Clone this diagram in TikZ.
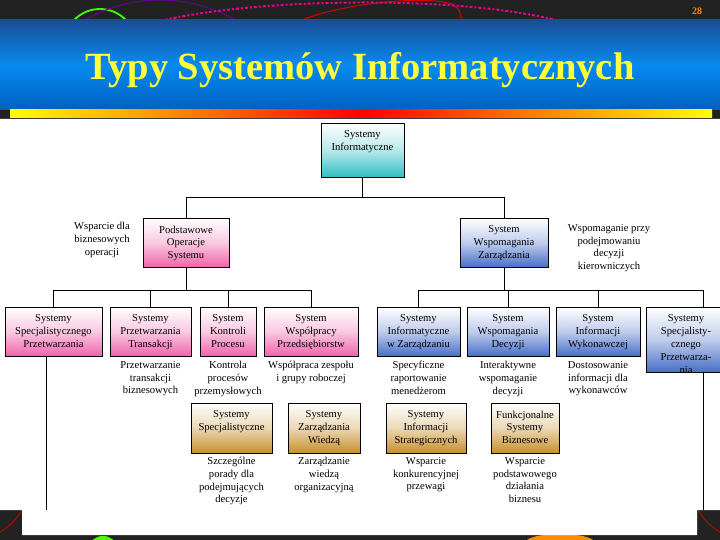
\documentclass[tikz,border=0pt]{standalone}
\usepackage{fontspec}
\setmainfont{Liberation Serif}
\definecolor{bgdark}{RGB}{34,34,34}
\definecolor{bannertop}{RGB}{25,78,150}
\definecolor{bannermid}{RGB}{8,138,240}
\definecolor{bannerbot}{RGB}{0,96,192}
\definecolor{titleyellow}{RGB}{255,255,60}
\definecolor{tealc}{RGB}{50,190,196}
\definecolor{pinkc}{RGB}{240,100,170}
\definecolor{bluec}{RGB}{72,112,200}
\definecolor{goldc}{RGB}{198,144,44}
\definecolor{pagenum}{RGB}{255,130,20}
\newcommand{\chartfont}{\fontsize{10.6}{12.8}\selectfont}
\tikzset{
  chartbox/.style={draw=black, line width=0.8pt, inner sep=0pt},
  tealbox/.style={chartbox, top color=white, bottom color=tealc, middle color=tealc!35},
  pinkbox/.style={chartbox, top color=white, bottom color=pinkc, middle color=pinkc!35},
  bluebox/.style={chartbox, top color=white, bottom color=bluec, middle color=bluec!35},
  goldbox/.style={chartbox, top color=white, bottom color=goldc, middle color=goldc!35},
  boxtext/.style={anchor=north, align=center, font=\chartfont, inner sep=0pt, yshift=-8pt},
  desc/.style={anchor=north, align=center, font=\chartfont, inner sep=0pt},
  conn/.style={draw=black, line width=0.8pt}
}
\begin{document}
\begin{tikzpicture}[x=1pt, y=-1pt]
\useasboundingbox (0,0) rectangle (720,540);
% background
\fill[bgdark] (0,0) rectangle (720,540);
\begin{scope}
\clip (0,0) rectangle (720,22);
\draw[green!75!yellow, line width=1.8pt] (100,45) circle (36);
\draw[violet!80!blue, line width=1pt] (160,150) circle (150);
\draw[red!85!black, line width=1pt] (298,22) .. controls (330,6) and (420,-6) .. (452,4) .. controls (460,10) .. (462,22);
\draw[magenta, line width=2pt, dash dot] (156,22) .. controls (250,-2) and (460,-6) .. (564,22);
\end{scope}
\begin{scope}
\clip (0,505) rectangle (720,540);
\draw[red!80!black, line width=0.8pt] (-30,480) circle (60);
\draw[red!80!black, line width=0.8pt] (750,480) circle (60);
\fill[green!70!yellow] (103,548) ellipse (14 and 12);
\fill[orange!90!yellow] (560,542) ellipse (34 and 8);
\end{scope}
\node[font=\fontsize{10}{12}\selectfont\bfseries, text=pagenum, inner sep=0pt] (pnum) at (697,11) {28};
% banner
\shade[top color=bannertop, bottom color=bannerbot, middle color=bannermid] (0,20) rectangle (720,110);
\shade[left color=yellow, right color=yellow, middle color=red] (10,110) rectangle (712,118);
\node[font=\fontsize{38.5}{41}\selectfont\bfseries, text=titleyellow, inner sep=0pt] (title) at (360,70) {Typy Systemów Informatycznych};
% white panel
\fill[white] (0,119) -- (720,119) -- (720,510) -- (697,510) -- (697,535) -- (22,535) -- (22,510) -- (0,510) -- cycle;
% level 1
\node[tealbox, minimum width=83pt, minimum height=54pt] (root) at (362.5,150) {};
\node[boxtext] at (root.north) {Systemy\\Informatyczne};
% level 2
\node[pinkbox, minimum width=86pt, minimum height=49pt] (ops) at (186,242.5) {};
\node[boxtext] at (ops.north) {Podstawowe\\Operacje\\Systemu};
\node[bluebox, minimum width=88pt, minimum height=49pt] (wz) at (504,242.5) {};
\node[boxtext] at (wz.north) {System\\Wspomagania\\Zarządzania};
\node[desc] (dops) at (102,222) {Wsparcie dla\\biznesowych\\operacji};
\node[desc] (dwz) at (609,224) {Wspomaganie przy\\podejmowaniu\\decyzji\\kierowniczych};
% level 3
\node[pinkbox, minimum width=97pt, minimum height=49pt] (b1) at (53.5,331.5) {};
\node[boxtext] at (b1.north) {Systemy\\Specjalistycznego\\Przetwarzania};
\node[pinkbox, minimum width=81pt, minimum height=49pt] (b2) at (150.5,331.5) {};
\node[boxtext] at (b2.north) {Systemy\\Przetwarzania\\Transakcji};
\node[pinkbox, minimum width=56pt, minimum height=49pt] (b3) at (228,331.5) {};
\node[boxtext] at (b3.north) {System\\Kontroli\\Procesu};
\node[pinkbox, minimum width=94pt, minimum height=49pt] (b4) at (311,331.5) {};
\node[boxtext] at (b4.north) {System\\Współpracy\\Przedsiębiorstw};
\node[bluebox, minimum width=83pt, minimum height=49pt] (b5) at (418.5,331.5) {};
\node[boxtext] at (b5.north) {Systemy\\Informatyczne\\w Zarządzaniu};
\node[bluebox, minimum width=82pt, minimum height=49pt] (b6) at (508,331.5) {};
\node[boxtext] at (b6.north) {System\\Wspomagania\\Decyzji};
\node[bluebox, minimum width=84pt, minimum height=49pt] (b7) at (598,331.5) {};
\node[boxtext] at (b7.north) {System\\Informacji\\Wykonawczej};
\node[bluebox, minimum width=80pt, minimum height=65pt] (b8) at (686,339.5) {};
\node[boxtext] at (b8.north) {Systemy\\Specjalisty-\\cznego\\Przetwarza-\\nia};
% level 3 descriptions
\node[desc] (d2) at (150.5,361) {Przetwarzanie\\transakcji\\biznesowych};
\node[desc] (d3) at (228,361) {Kontrola\\procesów\\przemysłowych};
\node[desc] (d4) at (311,361) {Współpraca zespołu\\i grupy roboczej};
\node[desc] (d5) at (418.5,361) {Specyficzne\\raportowanie\\menedżerom};
\node[desc] (d6) at (508,361) {Interaktywne\\wspomaganie\\decyzji};
\node[desc] (d7) at (598,361) {Dostosowanie\\informacji dla\\wykonawców};
% level 4
\node[goldbox, minimum width=81pt, minimum height=50pt] (c1) at (231.5,428) {};
\node[boxtext] at (c1.north) {Systemy\\Specjalistyczne};
\node[goldbox, minimum width=72pt, minimum height=50pt] (c2) at (324,428) {};
\node[boxtext] at (c2.north) {Systemy\\Zarządzania\\Wiedzą};
\node[goldbox, minimum width=80pt, minimum height=50pt] (c3) at (426,428) {};
\node[boxtext] at (c3.north) {Systemy\\Informacji\\Strategicznych};
\node[goldbox, minimum width=68pt, minimum height=50pt] (c4) at (525,428) {};
\node[boxtext] at (c4.north) {Funkcjonalne\\Systemy\\Biznesowe};
\node[desc] (e1) at (231.5,457) {Szczególne\\porady dla\\podejmujących\\decyzje};
\node[desc] (e2) at (324,457) {Zarządzanie\\wiedzą\\organizacyjną};
\node[desc] (e3) at (426,457) {Wsparcie\\konkurencyjnej\\przewagi};
\node[desc] (e4) at (525,457) {Wsparcie\\podstawowego\\działania\\biznesu};
% connectors
\coordinate (top) at (362.5,197);
\coordinate (busL) at (186,290);
\coordinate (busR) at (504,290);
\coordinate (endL) at (46,510);
\coordinate (endR) at (703,510);
\draw[conn] (root.south) -- (top);
\draw[conn] (ops.north) |- (top);
\draw[conn] (wz.north) |- (top);
\draw[conn] (ops.south) -- (busL);
\draw[conn] (b1.north) |- (busL);
\draw[conn] (b4.north) |- (busL);
\draw[conn] (b2.north) -- (b2.north |- busL);
\draw[conn] (b3.north) -- (b3.north |- busL);
\draw[conn] (wz.south) -- (busR);
\draw[conn] (b5.north) |- (busR);
\draw[conn] (703,0 |- b8.north) |- (busR);
\draw[conn] (b6.north) -- (b6.north |- busR);
\draw[conn] (b7.north) -- (b7.north |- busR);
\draw[conn] (46,0 |- b1.south) -- (endL);
\draw[conn] (703,0 |- b8.south) -- (endR);
\end{tikzpicture}
\end{document}
